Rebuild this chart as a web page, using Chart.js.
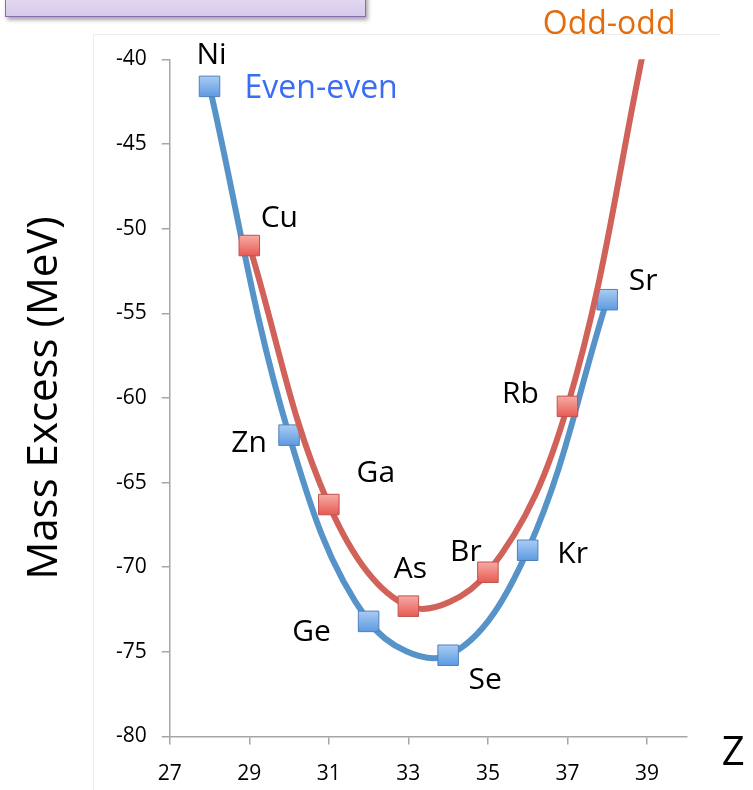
<!DOCTYPE html>
<html>
<head>
<meta charset="utf-8">
<script src="https://cdn.jsdelivr.net/npm/chart.js@4"></script>
<style>
    body { margin: 0; background: #fff; }
    #wrap { position: relative; width: 753px; height: 790px; overflow: hidden; }
    #chart { position: absolute; left: 0; top: 0; }
    .slide-box {
        position: absolute; left: 5px; top: -6px; width: 359px; height: 21px;
        background: linear-gradient(#e6ddf2, #d6c9ea);
        border: 1.5px solid #8a6db0;
        box-shadow: 2px 3px 4px rgba(0, 0, 0, 0.35);
    }
</style>
</head>
<body>
<div id="wrap">
    <div class="slide-box"></div>
    <canvas id="chart" width="753" height="790"></canvas>
</div>
<script>
// A = 76 isobars, mass excess in MeV
const evenZ = [28, 30, 32, 34, 36, 38];
const evenNames = ['Ni', 'Zn', 'Ge', 'Se', 'Kr', 'Sr'];
const evenMass = [-41.6, -62.2, -73.2, -75.2, -69.0, -54.2];

const oddZ = [29, 31, 33, 35, 37, 39];
const oddNames = ['Cu', 'Ga', 'As', 'Br', 'Rb', ''];
const oddMass = [-51.0, -66.3, -72.3, -70.3, -60.5, -38.5];

const xTicks = [27, 29, 31, 33, 35, 37, 39];
const yTicks = [-80, -75, -70, -65, -60, -55, -50, -45, -40];

const FONT = '"Open Sans", "Liberation Sans", sans-serif';

// label offsets from the marker centre (px)
const labelOffsets = {
    Ni: [2, -22], Zn: [-40, 17], Ge: [-57, 20], Se: [37, 34], Kr: [45, 13], Sr: [36, -10],
    Cu: [30, -19], Ga: [47, -23], As: [2, -28], Br: [-22, -11], Rb: [-47, -3]
};

// vertical gradient fill for the square markers, like the office-style bevel
function markerFill(top, bottom, flat) {
    return (c) => {
        if (c.type !== 'data' || !c.parsed) return flat;
        const py = c.chart.scales.y.getPixelForValue(c.parsed.y);
        if (!isFinite(py)) return flat;
        const g = c.chart.ctx.createLinearGradient(0, py - 10, 0, py + 10);
        g.addColorStop(0, top);
        g.addColorStop(1, bottom);
        return g;
    };
}

const annotations = {
    id: 'annotations',
    beforeDraw(chart) {
        const ctx = chart.ctx;
        ctx.save();
        ctx.strokeStyle = '#ececec';
        ctx.lineWidth = 1;
        ctx.beginPath();
        ctx.moveTo(93.5, 790);
        ctx.lineTo(93.5, 34.5);
        ctx.lineTo(720, 34.5);
        ctx.stroke();
        ctx.restore();
    },
    afterDatasetsDraw(chart) {
        const { ctx, chartArea } = chart;
        const xs = chart.scales.x, ys = chart.scales.y;
        ctx.save();
        ctx.textAlign = 'center';
        ctx.textBaseline = 'alphabetic';
        ctx.fillStyle = '#000';
        ctx.font = '30px ' + FONT;
        const put = (names, zs, vals) => names.forEach((n, i) => {
            if (!n) return;
            const off = labelOffsets[n];
            ctx.fillText(n, xs.getPixelForValue(zs[i]) + off[0], ys.getPixelForValue(vals[i]) + off[1]);
        });
        put(evenNames, evenZ, evenMass);
        put(oddNames, oddZ, oddMass);

        ctx.textAlign = 'left';
        ctx.font = '32px ' + FONT;
        ctx.fillStyle = '#3a6cf4';
        ctx.fillText('Even-even', xs.getPixelForValue(evenZ[0]) + 35, ys.getPixelForValue(evenMass[0]) + 12);
        ctx.fillStyle = '#e46c0a';
        ctx.fillText('Odd-odd', chartArea.right - 144, chartArea.top - 25);

        ctx.fillStyle = '#000';
        ctx.font = '40px ' + FONT;
        ctx.fillText('Z', chartArea.right + 35, chartArea.bottom + 28);
        ctx.restore();
    }
};

const axisGray = '#a6a6a6';

new Chart(document.getElementById('chart'), {
    type: 'line',
    data: {
        datasets: [{
            label: 'Odd-odd',
            data: oddZ.map((z, i) => ({ x: z, y: oddMass[i] })),
            borderColor: '#d0625a',
            borderWidth: 6,
            pointBackgroundColor: markerFill('#f7aaa4', '#e65c55', '#ee7c76'),
            pointStyle: 'rect',
            pointRadius: oddNames.map(n => n ? 14.5 : 0),
            pointBorderColor: '#c0504d',
            pointBorderWidth: 1,
            tension: 0.37,
            clip: 0
        }, {
            label: 'Even-even',
            data: evenZ.map((z, i) => ({ x: z, y: evenMass[i] })),
            borderColor: '#5593c8',
            borderWidth: 6,
            pointBackgroundColor: markerFill('#a9cbf2', '#5d9be2', '#7daee8'),
            pointStyle: 'rect',
            pointRadius: 14.5,
            pointBorderColor: '#4f81bd',
            pointBorderWidth: 1,
            tension: 0.37,
            clip: false
        }]
    },
    options: {
        responsive: false,
        animation: false,
        layout: { padding: { top: 59.3, right: 66.25, bottom: 0, left: 0 } },
        plugins: { legend: { display: false }, tooltip: { enabled: false } },
        scales: {
            x: {
                type: 'linear',
                min: 27,
                max: 40,
                afterBuildTicks: (scale) => { scale.ticks = xTicks.map(v => ({ value: v })); },
                afterFit: (scale) => { scale.height = 53.5; },
                grid: { drawOnChartArea: false, tickLength: 8, color: axisGray, lineWidth: 1.5 },
                border: { color: axisGray, width: 1.5 },
                ticks: { color: '#000', padding: 17, maxRotation: 0, font: { family: FONT, size: 21 } }
            },
            y: {
                type: 'linear',
                min: -80,
                max: -40,
                afterBuildTicks: (scale) => { scale.ticks = yTicks.map(v => ({ value: v })); },
                afterFit: (scale) => { scale.width = 169.75; },
                grid: { drawOnChartArea: false, tickLength: 8, color: axisGray, lineWidth: 1.5 },
                border: { color: axisGray, width: 1.5 },
                ticks: { color: '#000', padding: 15, font: { family: FONT, size: 21 } },
                title: {
                    display: true,
                    text: 'Mass Excess (MeV)',
                    color: '#000',
                    font: { family: FONT, size: 42 },
                    padding: { top: 20, bottom: 0 }
                }
            }
        }
    },
    plugins: [annotations]
});
</script>
</body>
</html>
